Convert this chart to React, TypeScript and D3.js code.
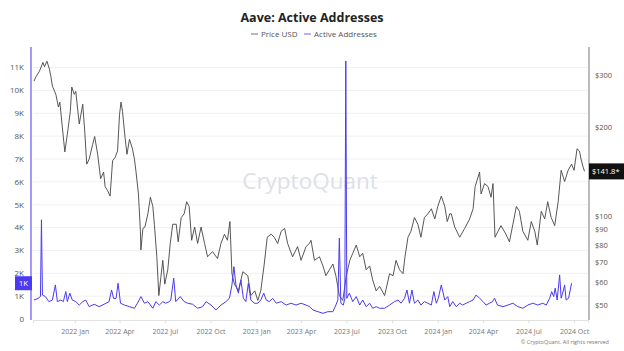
import { useEffect, useRef } from "react";
import * as d3 from "d3";

// Price USD
const priceDates = [
  "2021-10-11", "2021-10-15", "2021-10-22", "2021-10-29", "2021-11-01", "2021-11-06", "2021-11-11", "2021-11-14",
  "2021-11-17", "2021-11-24", "2021-11-29", "2021-12-02", "2021-12-07", "2021-12-12", "2021-12-17", "2021-12-23",
  "2021-12-26", "2021-12-31", "2022-01-03", "2022-01-10", "2022-01-17", "2022-01-21", "2022-01-25", "2022-01-30",
  "2022-02-06", "2022-02-10", "2022-02-16", "2022-02-22", "2022-02-28", "2022-03-03", "2022-03-08", "2022-03-13",
  "2022-03-18", "2022-03-23", "2022-03-28", "2022-04-01", "2022-04-04", "2022-04-07", "2022-04-12", "2022-04-16",
  "2022-04-21", "2022-04-27", "2022-05-01", "2022-05-04", "2022-05-09", "2022-05-13", "2022-05-14", "2022-05-18",
  "2022-05-22", "2022-05-28", "2022-06-02", "2022-06-07", "2022-06-10", "2022-06-15", "2022-06-19", "2022-06-23",
  "2022-06-27", "2022-07-01", "2022-07-07", "2022-07-12", "2022-07-17", "2022-07-24", "2022-07-28", "2022-08-03",
  "2022-08-09", "2022-08-14", "2022-08-19", "2022-08-24", "2022-08-30", "2022-09-05", "2022-09-12", "2022-09-19",
  "2022-09-25", "2022-10-05", "2022-10-15", "2022-10-22", "2022-10-29", "2022-11-04", "2022-11-09", "2022-11-13",
  "2022-11-18", "2022-11-26", "2022-12-05", "2022-12-15", "2022-12-21", "2022-12-29", "2023-01-04", "2023-01-10",
  "2023-01-17", "2023-01-23", "2023-01-31", "2023-02-06", "2023-02-13", "2023-02-20", "2023-02-27", "2023-03-05",
  "2023-03-15", "2023-03-25", "2023-04-01", "2023-04-11", "2023-04-18", "2023-04-21", "2023-04-28", "2023-05-08",
  "2023-05-15", "2023-05-21", "2023-05-28", "2023-06-04", "2023-06-10", "2023-06-17", "2023-06-24", "2023-07-01",
  "2023-07-08", "2023-07-14", "2023-07-21", "2023-07-28", "2023-08-03", "2023-08-10", "2023-08-17", "2023-08-23",
  "2023-08-30", "2023-09-06", "2023-09-16", "2023-09-26", "2023-10-03", "2023-10-09", "2023-10-16", "2023-10-23",
  "2023-10-27", "2023-11-02", "2023-11-08", "2023-11-15", "2023-11-22", "2023-11-28", "2023-12-05", "2023-12-12",
  "2023-12-19", "2023-12-26", "2024-01-01", "2024-01-08", "2024-01-15", "2024-01-20", "2024-01-25", "2024-01-28",
  "2024-02-04", "2024-02-14", "2024-02-24", "2024-03-05", "2024-03-12", "2024-03-16", "2024-03-25", "2024-03-28",
  "2024-04-04", "2024-04-11", "2024-04-17", "2024-04-21", "2024-04-25", "2024-05-01", "2024-05-07", "2024-05-17",
  "2024-05-24", "2024-05-31", "2024-06-07", "2024-06-13", "2024-06-20", "2024-06-30", "2024-07-07", "2024-07-14",
  "2024-07-19", "2024-07-27", "2024-08-03", "2024-08-09", "2024-08-16", "2024-08-23", "2024-08-30", "2024-09-05",
  "2024-09-12", "2024-09-19", "2024-09-26", "2024-10-01", "2024-10-07", "2024-10-12", "2024-10-15", "2024-10-19",
  "2024-10-22",
];
const priceValues = [
  286, 296, 309, 331, 320, 334, 314, 296,
  275, 258, 234, 243, 200, 165, 189, 226,
  273, 258, 264, 205, 239, 194, 150, 156,
  175, 186, 162, 134, 141, 126, 122, 117,
  154, 158, 166, 221, 243, 226, 185, 162,
  182, 169, 156, 142, 119, 89, 77, 91,
  92, 102, 116, 108, 94, 73, 54, 62,
  71, 59, 66, 81, 94, 94, 82, 99,
  102, 112, 108, 83, 92, 81, 92, 81,
  73, 76, 72, 81, 87, 83, 96, 64,
  59, 56, 65, 63, 54, 56, 52, 56,
  69, 85, 87, 85, 81, 89, 91, 81,
  73, 79, 71, 79, 81, 83, 71, 73,
  68, 63, 66, 69, 63, 54, 52, 63,
  71, 75, 80, 73, 75, 66, 68, 61,
  56, 58, 54, 64, 63, 71, 66, 64,
  73, 85, 89, 99, 94, 85, 99, 102,
  106, 98, 108, 117, 108, 96, 102, 102,
  92, 85, 91, 98, 106, 126, 141, 119,
  129, 126, 116, 129, 85, 89, 93, 87,
  82, 94, 108, 104, 89, 83, 96, 89,
  80, 104, 98, 112, 99, 93, 112, 143,
  131, 143, 150, 143, 169, 166, 156, 147,
  141.8,
];

// Active Addresses
const aaDates = [
  "2021-10-11", "2021-10-19", "2021-10-24", "2021-10-26", "2021-10-28", "2021-11-03", "2021-11-10", "2021-11-17",
  "2021-11-23", "2021-11-27", "2021-12-04", "2021-12-09", "2021-12-14", "2021-12-17", "2021-12-22", "2021-12-27",
  "2022-01-03", "2022-01-10", "2022-01-17", "2022-01-23", "2022-01-30", "2022-02-09", "2022-02-19", "2022-03-01",
  "2022-03-11", "2022-03-16", "2022-03-20", "2022-03-25", "2022-03-29", "2022-04-03", "2022-04-11", "2022-04-21",
  "2022-05-01", "2022-05-07", "2022-05-14", "2022-05-21", "2022-05-28", "2022-06-07", "2022-06-13", "2022-06-20",
  "2022-06-27", "2022-07-03", "2022-07-10", "2022-07-13", "2022-07-19", "2022-07-23", "2022-08-01", "2022-08-09",
  "2022-08-16", "2022-08-26", "2022-09-05", "2022-09-15", "2022-09-22", "2022-10-02", "2022-10-12", "2022-10-22",
  "2022-11-01", "2022-11-08", "2022-11-13", "2022-11-17", "2022-11-21", "2022-11-26", "2022-12-01", "2022-12-06",
  "2022-12-11", "2022-12-16", "2022-12-21", "2022-12-28", "2023-01-04", "2023-01-10", "2023-01-16", "2023-01-21",
  "2023-01-27", "2023-02-03", "2023-02-10", "2023-02-20", "2023-03-02", "2023-03-12", "2023-03-22", "2023-04-01",
  "2023-04-11", "2023-04-18", "2023-04-25", "2023-05-05", "2023-05-15", "2023-05-25", "2023-06-04", "2023-06-10",
  "2023-06-14", "2023-06-17", "2023-06-20", "2023-06-25", "2023-06-28", "2023-06-30", "2023-07-02", "2023-07-07",
  "2023-07-14", "2023-07-21", "2023-07-28", "2023-08-03", "2023-08-10", "2023-08-17", "2023-08-23", "2023-08-30",
  "2023-09-06", "2023-09-16", "2023-09-26", "2023-10-06", "2023-10-13", "2023-10-19", "2023-10-26", "2023-10-31",
  "2023-11-05", "2023-11-10", "2023-11-15", "2023-11-22", "2023-11-28", "2023-12-05", "2023-12-12", "2023-12-19",
  "2023-12-24", "2023-12-29", "2024-01-02", "2024-01-08", "2024-01-15", "2024-01-21", "2024-01-25", "2024-01-31",
  "2024-02-07", "2024-02-14", "2024-02-20", "2024-02-27", "2024-03-05", "2024-03-12", "2024-03-18", "2024-03-25",
  "2024-04-01", "2024-04-07", "2024-04-14", "2024-04-20", "2024-04-24", "2024-04-30", "2024-05-11", "2024-05-21",
  "2024-05-31", "2024-06-10", "2024-06-20", "2024-06-30", "2024-07-10", "2024-07-20", "2024-07-30", "2024-08-06",
  "2024-08-13", "2024-08-17", "2024-08-21", "2024-08-24", "2024-08-28", "2024-09-02", "2024-09-05", "2024-09-08",
  "2024-09-12", "2024-09-15", "2024-09-20", "2024-09-26",
];
const aaValues = [
  830, 900, 980, 4340, 1050, 980, 760, 830,
  1490, 760, 830, 760, 1200, 760, 1130, 830,
  760, 610, 760, 830, 540, 645, 540, 645,
  760, 1270, 900, 900, 1565, 690, 610, 540,
  470, 690, 980, 690, 760, 470, 760, 610,
  760, 690, 760, 830, 1785, 760, 980, 760,
  690, 645, 470, 540, 760, 610, 395, 610,
  760, 910, 1490, 2290, 1490, 1130, 1710, 910,
  760, 1565, 830, 690, 690, 830, 1130, 830,
  760, 900, 690, 760, 610, 690, 610, 690,
  610, 540, 395, 320, 250, 320, 320, 610,
  830, 3540, 690, 610, 900, 11290, 900, 1130,
  760, 980, 610, 830, 540, 690, 470, 540,
  470, 470, 610, 760, 830, 690, 900, 1270,
  690, 1270, 690, 830, 610, 760, 690, 610,
  1200, 690, 910, 1490, 830, 980, 540, 760,
  540, 690, 610, 690, 760, 830, 1050, 910,
  760, 610, 690, 760, 910, 610, 540, 610,
  690, 540, 470, 610, 690, 610, 690, 610,
  910, 1200, 980, 1350, 830, 1930, 910, 1130,
  1490, 830, 910, 1565,
];

const leftTicks = [0, 1000, 2000, 3000, 4000, 5000, 6000, 7000, 8000, 9000, 10000, 11000];
const rightTicks = [50, 60, 70, 80, 90, 100, 200, 300];
const xTickDates = [
  "2022-01-01", "2022-04-01", "2022-07-01", "2022-10-01", "2023-01-01", "2023-04-01",
  "2023-07-01", "2023-10-01", "2024-01-01", "2024-04-01", "2024-07-01", "2024-10-01",
];

const FONT = "'Open Sans', 'Noto Sans', sans-serif";
const AA_COLOR = "#4b3af2";
const PRICE_COLOR = "#444";

export default function App() {
  const svgRef = useRef<SVGSVGElement>(null);

  useEffect(() => {
    document.body.style.margin = "0";
    if (!svgRef.current) return;
    const svg = d3.select(svgRef.current);
    svg.selectAll("*").remove();

    const W = 624;
    const H = 351;
    const left = 33;
    const right = 588;
    const top = 47;
    const bottom = 319;

    const parse = d3.utcParse("%Y-%m-%d");
    const x = d3
      .scaleUtc()
      .domain([parse("2021-10-09")!, parse("2024-10-29")!])
      .range([left, right]);
    const yL = d3.scaleLinear().domain([0, 11900]).range([bottom, top]);
    const yR = d3.scaleLog().domain([45, 373]).range([bottom, top]);

    svg.attr("width", W).attr("height", H).style("font-family", FONT);
    svg.append("rect").attr("width", W).attr("height", H).attr("fill", "#fff");

    // title + legend
    svg.append("text")
      .attr("x", 312)
      .attr("y", 22)
      .attr("text-anchor", "middle")
      .attr("font-size", 12.5)
      .attr("font-weight", 700)
      .attr("fill", "#222")
      .text("Aave: Active Addresses");

    const legend = [
      { label: "Price USD", color: "#888", x: 251 },
      { label: "Active Addresses", color: "#8a7cf7", x: 304 },
    ];
    legend.forEach((l) => {
      svg.append("line")
        .attr("x1", l.x).attr("x2", l.x + 7)
        .attr("y1", 34).attr("y2", 34)
        .attr("stroke", l.color).attr("stroke-width", 1.2);
      svg.append("text")
        .attr("x", l.x + 10).attr("y", 37)
        .attr("font-size", 8).attr("fill", "#555")
        .text(l.label);
    });

    // gridlines
    svg.append("g")
      .selectAll("line")
      .data(leftTicks.slice(1))
      .join("line")
      .attr("x1", left).attr("x2", right)
      .attr("y1", (d) => yL(d)).attr("y2", (d) => yL(d))
      .attr("stroke", "#f0f0f0");

    // watermark
    svg.append("text")
      .attr("x", 310).attr("y", 189)
      .attr("text-anchor", "middle")
      .attr("font-size", 22.5)
      .attr("fill", "#dedfe7")
      .text("CryptoQuant");

    // x axis
    const xAxis = svg.append("g")
      .attr("transform", `translate(0,${bottom + 1})`)
      .call(
        d3.axisBottom(x)
          .tickValues(xTickDates.map((d) => parse(d)!))
          .tickSize(3)
          .tickFormat((d) => d3.utcFormat("%Y %b")(d as Date))
      );
    xAxis.select(".domain").attr("stroke", "#e2e2e2");
    xAxis.selectAll(".tick line").attr("stroke", "#ddd");
    xAxis.selectAll(".tick text").attr("font-size", 7).attr("fill", "#777").attr("font-family", FONT).attr("dy", "1.1em");

    // left axis labels
    svg.append("g")
      .selectAll("text")
      .data(leftTicks)
      .join("text")
      .attr("x", 24)
      .attr("y", (d) => yL(d))
      .attr("dy", "0.35em")
      .attr("text-anchor", "end")
      .attr("font-size", 8)
      .attr("fill", "#555")
      .text((d) => (d === 0 ? "0" : `${d / 1000}K`));

    // right axis labels
    svg.append("g")
      .selectAll("text")
      .data(rightTicks)
      .join("text")
      .attr("x", 595)
      .attr("y", (d) => yR(d))
      .attr("dy", "0.35em")
      .attr("font-size", 7.5)
      .attr("fill", "#555")
      .text((d) => `$${d}`);

    // axis lines
    svg.append("line")
      .attr("x1", 31).attr("x2", 31).attr("y1", top).attr("y2", bottom + 1)
      .attr("stroke", "#8677f8").attr("stroke-width", 1.5);
    svg.append("line")
      .attr("x1", right + 1).attr("x2", right + 1).attr("y1", top).attr("y2", bottom + 1)
      .attr("stroke", "#777").attr("stroke-width", 1);

    // price line
    const priceData = priceDates.map((d, i) => ({ date: parse(d)!, value: priceValues[i] }));
    svg.append("path")
      .datum(priceData)
      .attr("fill", "none")
      .attr("stroke", PRICE_COLOR)
      .attr("stroke-width", 0.9)
      .attr("d", d3.line<{ date: Date; value: number }>().x((d) => x(d.date)).y((d) => yR(d.value)));

    // active addresses line
    const aaData = aaDates.map((d, i) => ({ date: parse(d)!, value: aaValues[i] }));
    svg.append("path")
      .datum(aaData)
      .attr("fill", "none")
      .attr("stroke", AA_COLOR)
      .attr("stroke-width", 1)
      .attr("d", d3.line<{ date: Date; value: number }>().x((d) => x(d.date)).y((d) => yL(d.value)));

    // last value badges
    const lastAA = aaValues[aaValues.length - 1];
    const aaY = yL(lastAA);
    svg.append("rect").attr("x", 15).attr("y", aaY - 7).attr("width", 17).attr("height", 14).attr("fill", AA_COLOR);
    svg.append("text")
      .attr("x", 23.5).attr("y", aaY).attr("dy", "0.35em")
      .attr("text-anchor", "middle").attr("font-size", 8).attr("fill", "#fff")
      .text(`${Math.floor(lastAA / 1000)}K`);

    const lastPrice = priceValues[priceValues.length - 1];
    const pY = yR(lastPrice);
    svg.append("rect").attr("x", 589).attr("y", pY - 8).attr("width", 35).attr("height", 16).attr("fill", "#111");
    svg.append("text")
      .attr("x", 592).attr("y", pY).attr("dy", "0.35em")
      .attr("font-size", 7.5).attr("fill", "#fff")
      .text(`$${lastPrice}*`);

    // copyright
    svg.append("text")
      .attr("x", 609).attr("y", 344)
      .attr("text-anchor", "end")
      .attr("font-size", 5.5)
      .attr("fill", "#777")
      .text("© CryptoQuant. All rights reserved");
  }, []);

  return <svg ref={svgRef} style={{ display: "block" }} />;
}
